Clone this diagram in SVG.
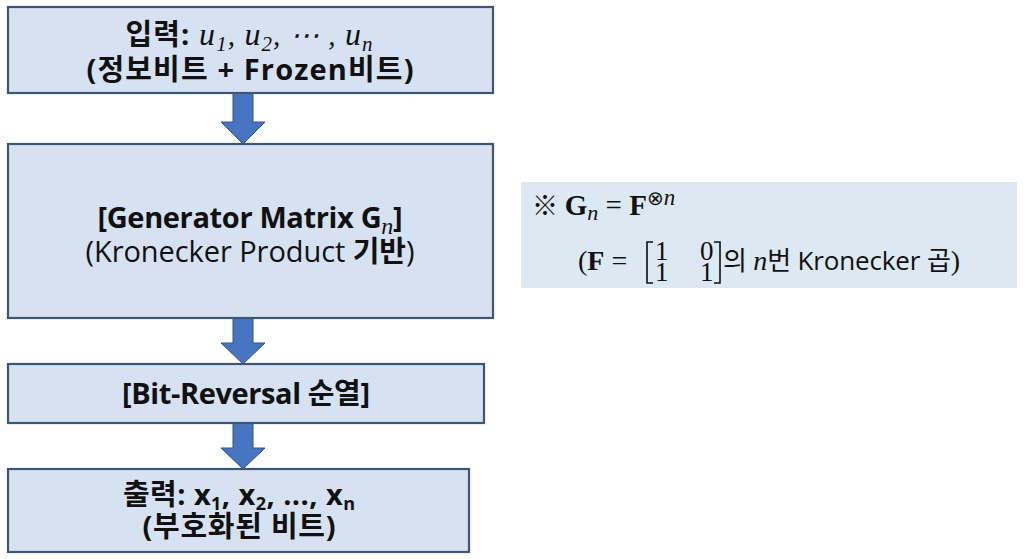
<svg xmlns="http://www.w3.org/2000/svg" width="1024" height="559" viewBox="0 0 1024 559">
<style>
.box{fill:#d6e2f2;stroke:#3d5577;stroke-width:2.2}
.arr{fill:#4775c2;stroke:#2f528f;stroke-width:1}
.t{font-family:"Open Sans","Noto Sans CJK KR",sans-serif;font-size:29px;fill:#111;text-anchor:middle}
.b{font-weight:bold}
.m{font-family:"Liberation Serif","DejaVu Serif",serif;font-style:italic;font-weight:normal}
.s{font-family:"Open Sans","Noto Sans CJK KR",sans-serif;font-size:26px;fill:#111}
.mb{font-family:"Liberation Serif","DejaVu Serif",serif;font-weight:bold}
.r{font-family:"Liberation Serif","DejaVu Serif",serif}
.d{font-family:"Liberation Serif","DejaVu Serif",serif;font-size:27px;fill:#111}
</style>
<rect width="1024" height="559" fill="#ffffff"/>
<g id="connectors">
<polygon class="arr" points="233,93 253,93 253,122 265,122 243,144 221,122 233,122"/>
<polygon class="arr" points="233,318 253,318 253,343 265,343 243,364 221,343 233,343"/>
<polygon class="arr" points="233,423 253,423 253,448 265,448 243,469 221,448 233,448"/>
</g>
<g id="input">
<rect class="box" x="8" y="7" width="485" height="86"/>
<text class="t b" x="249" y="45" textLength="247">입력: <tspan class="m" font-size="32">u</tspan><tspan class="m" font-size="21" dy="6">1</tspan><tspan dy="-6" class="m">, </tspan><tspan class="m" font-size="32">u</tspan><tspan class="m" font-size="21" dy="6">2</tspan><tspan dy="-6" class="m">, ⋯ , </tspan><tspan class="m" font-size="32">u</tspan><tspan class="m" font-size="21" dy="6">n</tspan></text>
<text class="t b" x="250" y="80" textLength="327">(정보비트 + Frozen비트)</text>
</g>
<g id="generator">
<rect class="box" x="8" y="144" width="485" height="174"/>
<text class="t b" x="250" y="228" textLength="305">[Generator Matrix G<tspan class="m" font-size="24" dy="6">n</tspan><tspan dy="-6">]</tspan></text>
<text class="t" x="250" y="262" textLength="329">(Kronecker Product <tspan class="b">기반</tspan>)</text>
</g>
<g id="bitrev">
<rect class="box" x="8" y="364" width="476" height="59"/>
<text class="t b" x="246" y="404" textLength="248">[Bit-Reversal 순열]</text>
</g>
<g id="output">
<rect class="box" x="8" y="469" width="461" height="83"/>
<text class="t b" x="239" y="505" textLength="232">출력: x<tspan font-size="18" dy="5">1</tspan><tspan dy="-5">, x</tspan><tspan font-size="18" dy="5">2</tspan><tspan dy="-5">, ..., x</tspan><tspan font-size="18" dy="5">n</tspan></text>
<text class="t b" x="239" y="537" textLength="193">(부호화된 비트)</text>
</g>
<g id="note">
<rect x="521" y="182" width="496" height="106" fill="#dce8f2"/>
<text class="s" x="532" y="215">※ <tspan class="mb" font-size="29">G</tspan><tspan class="m" font-size="22" font-weight="bold" dy="5">n</tspan><tspan class="r" dy="-5" font-size="29"> = </tspan><tspan class="mb" font-size="29">F</tspan><tspan font-family="'DejaVu Sans',sans-serif" font-size="20" dy="-10">⊗</tspan><tspan class="m" font-size="23" font-weight="bold">n</tspan></text>
<text class="s" x="578" y="270"><tspan class="r" font-size="28">(</tspan><tspan class="mb" font-size="28">F</tspan><tspan class="r" font-size="28"> =</tspan></text>
<path d="M653,242 h-6 v41 h6 M714,242 h6 v41 h-6" fill="none" stroke="#111" stroke-width="1.6"/>
<text class="d" x="655" y="260">1</text>
<text class="d" x="700" y="260">0</text>
<text class="d" x="655" y="281">1</text>
<text class="d" x="700" y="281">1</text>
<text class="s" x="723" y="270" textLength="237">의 <tspan class="m" font-size="28">n</tspan>번 Kronecker 곱<tspan class="r" font-size="28">)</tspan></text>
</g>
</svg>
